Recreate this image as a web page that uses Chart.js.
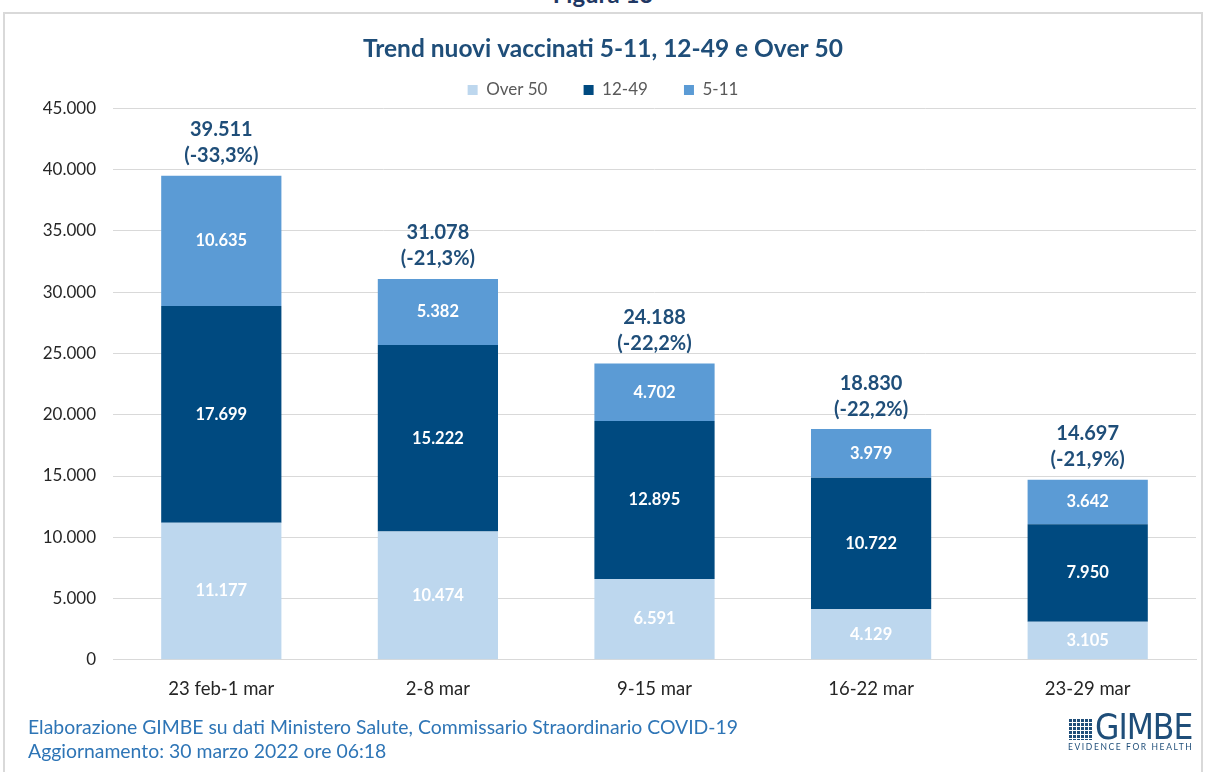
<!DOCTYPE html>
<html>
<head>
<meta charset="utf-8">
<script src="https://cdn.jsdelivr.net/npm/chart.js"></script>
<style>
body { margin:0; background:#fff; width:1206px; height:772px; overflow:hidden; position:relative; font-family:Lato,"Open Sans",sans-serif; }
.fig { position:absolute; left:0; width:1206px; top:-21px; text-align:center; font-weight:bold; font-size:24px; color:#1F3864; }
.frame { position:absolute; left:3px; top:12px; width:1200px; height:790px; border:2px solid #d9d9d9; box-sizing:border-box; }
#wrap { position:absolute; left:10px; top:0; width:1206px; height:721px; }
.note { position:absolute; left:28px; color:#2E75B6; font-size:19.4px; white-space:nowrap; }
.logo { position:absolute; left:1068px; top:714px; color:#1F4E79; }
.logo .grid { position:absolute; left:0; top:4px; width:24px; height:22px;
  background-image:linear-gradient(90deg,#fff 1px,transparent 1px),linear-gradient(#fff 1px,transparent 1px);
  background-size:4px 4px; background-color:#1F4E79; }
.logo .name { position:absolute; left:27px; top:-7px; font-family:"Liberation Sans Narrow","DejaVu Sans Condensed",sans-serif; font-size:35px; letter-spacing:-1px; }
.logo .sub { position:absolute; left:0; top:28px; font-size:8.5px; letter-spacing:1.6px; white-space:nowrap; }
</style>
</head>
<body>
<div class="fig">Figura 13</div>
<div class="frame"></div>
<div id="wrap"><canvas id="c"></canvas></div>
<div class="note" style="top:715px">Elaborazione GIMBE su dati Ministero Salute, Commissario Straordinario COVID-19</div>
<div class="note" style="top:739px">Aggiornamento: 30 marzo 2022 ore 06:18</div>
<div class="logo"><div class="grid"></div><div class="name">GIMBE</div><div class="sub">EVIDENCE FOR HEALTH</div></div>
<script>
// dati
var categories = ['23 feb-1 mar', '2-8 mar', '9-15 mar', '16-22 mar', '23-29 mar'];
var over50 = [11177, 10474, 6591, 4129, 3105];
var age1249 = [17699, 15222, 12895, 10722, 7950];
var age511 = [10635, 5382, 4702, 3979, 3642];
var pctChange = [-33.3, -21.3, -22.2, -22.2, -21.9];
var yTicks = [0, 5000, 10000, 15000, 20000, 25000, 30000, 35000, 40000, 45000];

function fmt(n) {
  return String(Math.round(n)).replace(/\B(?=(\d{3})+(?!\d))/g, '.');
}
function fmtPct(p) {
  return '(' + p.toFixed(1).replace('.', ',') + '%)';
}

var FONT = 'Lato, "Open Sans", sans-serif';

// etichette dentro le barre
var innerLabels = {
  id: 'innerLabels',
  afterDatasetsDraw: function (chart) {
    var ctx = chart.ctx;
    ctx.save();
    ctx.font = 'bold 16.5px ' + FONT;
    ctx.fillStyle = '#fff';
    ctx.textAlign = 'center';
    ctx.textBaseline = 'middle';
    chart.data.datasets.forEach(function (ds, i) {
      chart.getDatasetMeta(i).data.forEach(function (el, j) {
        ctx.fillText(fmt(ds.data[j]), el.x, (el.y + el.base) / 2);
      });
    });
    ctx.restore();
  }
};

// totali sopra le barre
var totals = {
  id: 'totals',
  afterDatasetsDraw: function (chart) {
    var ctx = chart.ctx;
    var last = chart.getDatasetMeta(chart.data.datasets.length - 1);
    ctx.save();
    ctx.font = 'bold 20px ' + FONT;
    ctx.fillStyle = '#1F4E79';
    ctx.textAlign = 'center';
    ctx.textBaseline = 'middle';
    last.data.forEach(function (el, j) {
      var tot = over50[j] + age1249[j] + age511[j];
      ctx.fillText(fmt(tot), el.x, el.y - 46);
      ctx.fillText(fmtPct(pctChange[j]), el.x, el.y - 20);
    });
    ctx.restore();
  }
};

new Chart(document.getElementById('c'), {
  type: 'bar',
  data: {
    labels: categories,
    datasets: [
      { label: 'Over 50', data: over50, backgroundColor: '#BDD7EE' },
      { label: '12-49', data: age1249, backgroundColor: '#004A80' },
      { label: '5-11', data: age511, backgroundColor: '#5B9BD5' }
    ]
  },
  options: {
    responsive: true,
    maintainAspectRatio: false,
    animation: false,
    layout: { padding: { left: 0, right: 20, top: 0, bottom: 3 } },
    datasets: { bar: { categoryPercentage: 1, barPercentage: 0.555 } },
    plugins: {
      title: {
        display: true,
        text: 'Trend nuovi vaccinati 5-11, 12-49 e Over 50',
        color: '#1F4E79',
        font: { family: FONT, size: 24.5, weight: 'bold' },
        padding: { top: 34, bottom: 8 }
      },
      legend: {
        display: true,
        labels: {
          boxWidth: 10, boxHeight: 10, padding: 10,
          color: '#595959',
          font: { family: FONT, size: 17 },
          generateLabels: function (chart) {
            var items = Chart.defaults.plugins.legend.labels.generateLabels(chart);
            items.forEach(function (it, i) {
              if (i < items.length - 1) it.text = it.text + '      ';
            });
            return items;
          }
        }
      },
      tooltip: { enabled: false }
    },
    scales: {
      x: {
        stacked: true,
        grid: { display: false, drawTicks: false },
        border: { color: '#d9d9d9' },
        ticks: { color: '#262626', font: { family: FONT, size: 18.5 }, padding: 18 }
      },
      y: {
        stacked: true,
        min: 0, max: 45000,
        afterBuildTicks: function (scale) {
          scale.ticks = yTicks.map(function (v) { return { value: v }; });
        },
        afterFit: function (scale) { scale.width = 103; },
        grid: { color: '#d9d9d9', drawTicks: false },
        border: { display: false },
        ticks: {
          color: '#262626', padding: 17,
          font: { family: FONT, size: 17 },
          callback: function (v) { return fmt(v); }
        }
      }
    }
  },
  plugins: [innerLabels, totals]
});
</script>
</body>
</html>
